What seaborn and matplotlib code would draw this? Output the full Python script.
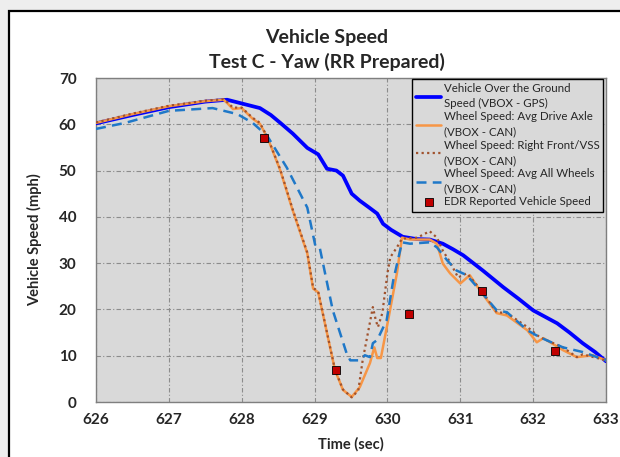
import matplotlib
matplotlib.use("Agg")
import matplotlib.pyplot as plt
import seaborn as sns
import pandas as pd
from matplotlib.patches import Rectangle

# Data
gps_t = [626.0, 626.5, 627.0, 627.5, 627.8, 628.0, 628.25, 628.4, 628.53, 628.7, 628.9,
         629.05, 629.17, 629.3, 629.39, 629.51, 629.62, 629.75, 629.86, 629.94, 630.05,
         630.21, 630.4, 630.58, 630.76, 630.9, 631.04, 631.31, 631.59, 631.8, 632.0,
         632.33, 632.5, 632.68, 632.85, 633.0]
gps_v = [60.2, 62.0, 63.7, 64.9, 65.3, 64.5, 63.5, 62.0, 60.3, 58.0, 54.9,
         53.5, 50.4, 50.0, 48.9, 45.0, 43.5, 42.0, 40.7, 38.5, 37.2,
         35.7, 35.2, 35.1, 34.2, 33.0, 31.7, 28.4, 24.8, 22.3, 19.8,
         17.0, 15.0, 12.7, 10.8, 8.8]

axle_t = [626.0, 626.5, 627.0, 627.5, 627.75, 627.8, 627.88, 628.0, 628.15, 628.25, 628.36,
          628.53, 628.7, 628.9, 628.98, 629.05, 629.28, 629.39, 629.51, 629.62, 629.76,
          629.82, 629.86, 629.91, 630.01, 630.13, 630.2, 630.31, 630.58, 630.68, 630.76,
          630.86, 631.0, 631.13, 631.27, 631.5, 631.64, 631.92, 632.05, 632.14, 632.41,
          632.6, 632.82, 633.0]
axle_v = [60.3, 62.2, 63.9, 65.0, 65.3, 64.6, 63.3, 63.5, 61.2, 60.1, 56.9,
          50.0, 41.4, 32.1, 24.5, 23.7, 6.9, 2.6, 1.1, 3.2, 8.4,
          11.8, 9.5, 9.5, 17.7, 27.8, 35.5, 35.1, 35.1, 34.2, 29.9,
          27.8, 25.6, 27.4, 24.1, 19.2, 18.7, 15.5, 12.9, 13.8, 11.2,
          9.7, 10.1, 9.0]

rf_t = [626.0, 626.5, 627.0, 627.5, 627.75, 627.8, 627.88, 628.0, 628.15, 628.25, 628.36,
        628.53, 628.7, 628.9, 628.98, 629.05, 629.28, 629.39, 629.51, 629.6, 629.66,
        629.8, 629.84, 629.87, 629.93, 630.0, 630.04, 630.13, 630.2, 630.41, 630.58,
        630.68, 630.76, 630.86, 630.97, 631.09, 631.27, 631.5, 631.64, 631.78, 631.92,
        632.09, 632.41, 632.6, 632.68, 633.0]
rf_v = [60.4, 62.3, 64.0, 65.1, 65.4, 64.8, 63.6, 63.6, 61.4, 60.3, 57.0,
        50.2, 41.6, 32.3, 24.7, 23.8, 7.0, 2.7, 1.0, 2.5, 9.0,
        20.5, 17.7, 16.2, 19.2, 27.8, 31.3, 33.4, 35.3, 35.5, 36.9,
        35.5, 32.7, 30.2, 26.9, 27.8, 24.5, 19.4, 19.2, 17.7, 16.2,
        14.0, 11.8, 9.7, 10.3, 9.0]

allw_t = [626.0, 626.4, 627.0, 627.6, 627.94, 628.15, 628.35, 628.62, 628.9, 629.01, 629.07,
          629.25, 629.44, 629.49, 629.62, 629.69, 629.76, 629.8, 629.86, 629.99, 630.08,
          630.2, 630.31, 630.58, 630.68, 630.82, 630.95, 631.09, 631.27, 631.5, 631.64,
          631.92, 632.09, 632.41, 632.68, 633.0]
allw_v = [59.0, 60.3, 62.9, 63.5, 62.2, 60.3, 57.5, 50.6, 42.0, 33.8, 33.4,
          19.8, 10.5, 9.0, 9.0, 10.1, 9.7, 12.7, 13.4, 17.7, 26.3,
          34.5, 34.2, 34.5, 33.4, 30.6, 28.4, 27.4, 24.1, 19.8, 19.4,
          15.5, 14.0, 11.8, 10.8, 9.0]

edr_t = [628.3, 629.3, 630.3, 631.3, 632.3]
edr_v = [57, 7, 19, 24, 11]

x_ticks = [626, 627, 628, 629, 630, 631, 632, 633]
y_ticks = [0, 10, 20, 30, 40, 50, 60, 70]

sns.set_style("white", {"axes.facecolor": "#d9d9d9", "axes.edgecolor": "#7f7f7f"})
plt.rcParams["font.family"] = ["Lato", "DejaVu Sans"]

fig = plt.figure(figsize=(6.2, 4.57), dpi=100, facecolor="#eeeeee")
# white chart area with black frame
fig.patches.append(Rectangle((9 / 620, -0.1), 1.2, 1.1 - 11 / 457,
                             transform=fig.transFigure, facecolor="white",
                             edgecolor="black", linewidth=1.6, zorder=-1))
ax = fig.add_axes([96 / 620, 1 - 402 / 457, 510 / 620, 324 / 457])

gps = pd.DataFrame({"t": gps_t, "v": gps_v})
axle = pd.DataFrame({"t": axle_t, "v": axle_v})
rf = pd.DataFrame({"t": rf_t, "v": rf_v})
allw = pd.DataFrame({"t": allw_t, "v": allw_v})
edr = pd.DataFrame({"t": edr_t, "v": edr_v})

sns.lineplot(data=gps, x="t", y="v", ax=ax, color="#0000ff", linewidth=2.7,
             label="Vehicle Over the Ground\nSpeed (VBOX - GPS)", zorder=3)
sns.lineplot(data=axle, x="t", y="v", ax=ax, color="#f79646", linewidth=1.8,
             label="Wheel Speed: Avg Drive Axle\n(VBOX - CAN)", zorder=4)
sns.lineplot(data=rf, x="t", y="v", ax=ax, color="#a0522d", linewidth=1.6,
             linestyle=(0, (1, 1.5)), label="Wheel Speed: Right Front/VSS\n(VBOX - CAN)", zorder=5)
sns.lineplot(data=allw, x="t", y="v", ax=ax, color="#1f78c8", linewidth=1.8,
             linestyle=(0, (4, 2.5)), label="Wheel Speed: Avg All Wheels\n(VBOX - CAN)", zorder=6)
sns.scatterplot(data=edr, x="t", y="v", ax=ax, marker="s", s=30, color="#c00000",
                edgecolor="black", linewidth=0.6, label="EDR Reported Vehicle Speed", zorder=7)

ax.set_xlim(626, 633)
ax.set_ylim(0, 70)
ax.set_xticks(x_ticks)
ax.set_yticks(y_ticks)
ax.set_xticklabels([str(t) for t in x_ticks], fontsize=11, fontweight="bold")
ax.set_yticklabels([str(t) for t in y_ticks], fontsize=11, fontweight="bold")
ax.tick_params(axis="x", length=5, color="#7f7f7f", width=1, pad=3)
ax.tick_params(axis="y", length=0, pad=14)
ax.grid(True, color="#8c8c8c", linestyle=(0, (4, 2, 1, 2)), linewidth=0.8)
ax.set_axisbelow(True)
for s in ax.spines.values():
    s.set_linewidth(1.0)

ax.set_xlabel("Time (sec)", fontsize=10.5, fontweight="bold", labelpad=7)
ax.set_ylabel("Vehicle Speed (mph)", fontsize=10.5, fontweight="bold", labelpad=12)
fig.text(327 / 620, 1 - 38 / 457, "Vehicle Speed", ha="center", va="center",
         fontsize=14, fontweight="bold")
fig.text(327 / 620, 1 - 62 / 457, "Test C - Yaw (RR Prepared)", ha="center", va="center",
         fontsize=14, fontweight="bold")

leg = ax.legend(loc="upper right", bbox_to_anchor=(0.995, 0.997), frameon=True,
                fancybox=False, edgecolor="black", framealpha=1, fontsize=8.3,
                handlelength=2.2, handletextpad=0.2, labelspacing=0.2,
                borderpad=0.35, borderaxespad=0.0)
leg.get_frame().set_linewidth(1.0)
for txt in leg.get_texts():
    txt.set_linespacing(1.45)

fig.savefig("out.png", dpi=100, facecolor=fig.get_facecolor())
